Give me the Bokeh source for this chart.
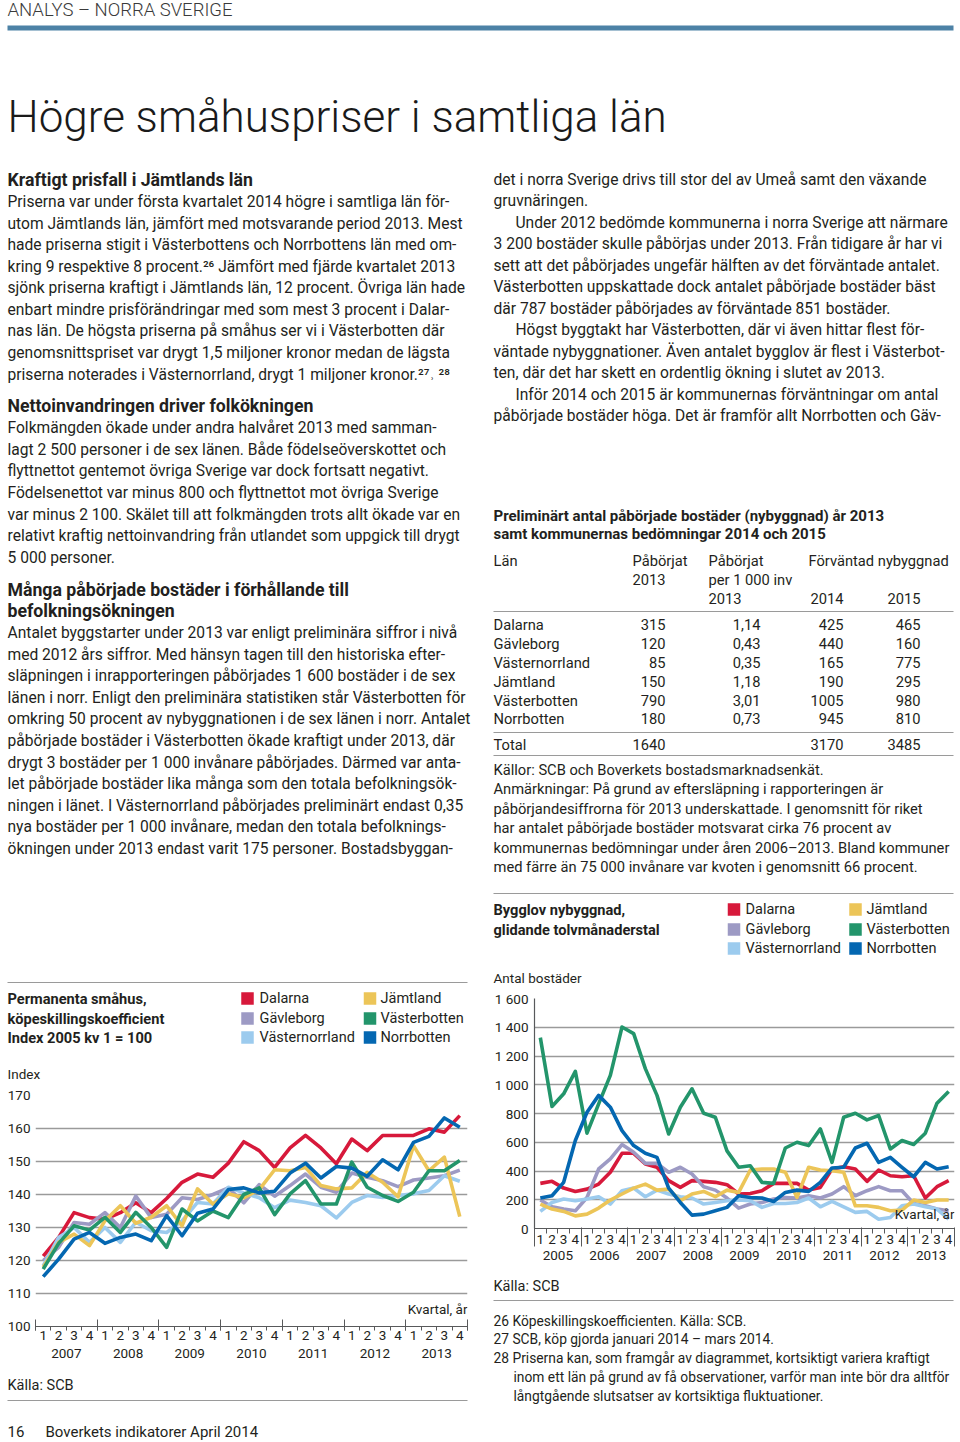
from bokeh.plotting import figure
from bokeh.models import Range1d, LinearAxis, FixedTicker, Grid, Label
from bokeh.layouts import column, row
from bokeh.embed import file_html
from bokeh.resources import INLINE
from bokeh.core.properties import value

FONT = "Roboto"
TITLE_FONT = "Roboto Light"
INK = "#231f20"
RULE = "#9a9a9a"
AXIS = "#58595b"
BAR = "#4d82a6"
BODY = "15.6px"
TICK = "13.5px"

# ---------------- data ----------------
region_names = ["Dalarna", "Gävleborg", "Västernorrland", "Jämtland", "Västerbotten", "Norrbotten"]
region_colors = ["#d7193b", "#9d9ac4", "#9ccbee", "#ecc558", "#23956b", "#0467b1"]
quarter_labels = ["1", "2", "3", "4"]

# Chart 1: köpeskillingskoefficient, index 2005 kv1 = 100, 2007 kv1 - 2013 kv4
index_years = ["2007", "2008", "2009", "2010", "2011", "2012", "2013"]
index_ticks = [100, 110, 120, 130, 140, 150, 160, 170]
index_dalarna = [121.3, 127.0, 134.5, 133.0, 132.5, 134.5, 137.5, 134.5, 138.8, 143.7, 146.2, 145.2, 149.5, 156.0,
                 153.3, 148.2, 154.1, 157.9, 154.1, 149.3, 156.8, 153.3, 157.9, 157.9, 157.9, 159.9, 158.9, 163.9]
index_gavleborg = [120.0, 124.0, 131.5, 131.0, 134.5, 130.0, 139.5, 133.0, 134.0, 139.0, 138.5, 140.0, 142.0, 137.5,
                   143.0, 139.5, 142.7, 146.2, 142.2, 140.7, 146.5, 145.2, 144.2, 142.4, 144.4, 145.0, 145.7, 147.4]
index_vasternorrland = [118.4, 127.0, 130.0, 125.5, 130.0, 125.5, 131.6, 129.0, 128.5, 132.0, 137.6, 137.1, 142.2, 140.5,
                        139.0, 136.0, 138.3, 137.6, 136.6, 132.9, 137.6, 139.7, 139.1, 139.7, 140.2, 141.2, 145.7, 144.0]
index_jamtland = [118.0, 125.5, 128.0, 124.5, 132.0, 136.6, 131.3, 133.1, 136.6, 130.5, 141.7, 137.1, 140.2, 139.0,
                  141.5, 147.5, 147.2, 148.2, 142.7, 141.7, 142.0, 146.7, 143.7, 139.3, 154.8, 147.2, 151.3, 133.3]
index_vasterbotten = [117.4, 125.2, 130.5, 129.2, 133.1, 128.5, 134.6, 130.0, 124.0, 135.6, 132.0, 135.0, 133.0, 140.0,
                      142.0, 133.9, 140.2, 144.2, 137.1, 137.1, 149.8, 142.2, 139.7, 137.9, 140.7, 147.2, 147.2, 150.3]
index_norrbotten = [115.1, 120.4, 126.5, 128.5, 125.2, 127.0, 128.0, 126.0, 133.6, 127.5, 134.3, 135.6, 141.5, 142.0,
                    140.5, 141.0, 146.5, 149.5, 145.0, 148.5, 148.0, 145.5, 150.5, 147.5, 155.8, 157.6, 163.2, 160.4]

# Chart 2: bygglov nybyggnad, glidande tolvmånaderstal, 2005 kv1 - 2013 kv4
permit_years = ["2005", "2006", "2007", "2008", "2009", "2010", "2011", "2012", "2013"]
permit_ticks = [0, 200, 400, 600, 800, 1000, 1200, 1400, 1600]
permit_tick_labels = ["0", "200", "400", "600", "800", "1 000", "1 200", "1 400", "1 600"]
permit_dalarna = [314, 328, 281, 258, 274, 309, 391, 523, 523, 449, 426, 333, 286, 333, 328, 321, 305, 240,
                  244, 263, 314, 314, 314, 267, 286, 414, 430, 414, 328, 407, 367, 360, 367, 212, 291, 333]
permit_gavleborg = [198, 151, 135, 123, 216, 414, 484, 584, 530, 453, 453, 391, 426, 379, 291, 267, 212, 142,
                    170, 181, 205, 216, 212, 228, 212, 240, 291, 228, 263, 291, 263, 263, 174, 158, 135, 123]
permit_vasternorrland = [119, 181, 205, 193, 205, 221, 170, 263, 281, 221, 267, 240, 221, 212, 170, 181, 193, 198,
                         193, 147, 174, 174, 181, 212, 151, 188, 151, 112, 119, 65, 77, 158, 170, 151, 135, 65]
permit_jamtland = [170, 135, 119, 88, 100, 142, 198, 240, 281, 309, 267, 274, 193, 240, 258, 221, 267, 251,
                   407, 414, 414, 391, 216, 426, 407, 402, 391, 158, 158, 147, 123, 128, 198, 181, 198, 198]
permit_vasterbotten = [1328, 849, 937, 1093, 663, 867, 1065, 1402, 1356, 1112, 926, 658, 844, 972, 802, 774, 540, 426,
                       437, 321, 314, 560, 600, 577, 693, 460, 774, 802, 756, 786, 553, 612, 584, 663, 872, 953]
permit_norrbotten = [212, 228, 321, 612, 809, 926, 844, 681, 577, 523, 495, 281, 181, 93, 100, 123, 147, 228,
                     216, 212, 188, 251, 267, 258, 321, 421, 426, 560, 593, 460, 495, 426, 360, 460, 414, 430]

# Table
table_regions = ["Dalarna", "Gävleborg", "Västernorrland", "Jämtland", "Västerbotten", "Norrbotten"]
table_started_2013 = ["315", "120", "85", "150", "790", "180"]
table_per_1000 = ["1,14", "0,43", "0,35", "1,18", "3,01", "0,73"]
table_expected_2014 = ["425", "440", "165", "190", "1005", "945"]
table_expected_2015 = ["465", "160", "775", "295", "980", "810"]
table_totals = ["1640", "3170", "3485"]


# ---------------- helpers ----------------
def page_fig(x0, x1, y0, y1):
    p = figure(width=x1 - x0, height=y1 - y0,
               x_range=Range1d(x0, x1), y_range=Range1d(y1, y0),
               x_axis_location=None, y_axis_location=None,
               toolbar_location=None, output_backend="svg",
               min_border=0, outline_line_color=None)
    p.grid.visible = False
    return p


def write(p, x, ys, lines, size=BODY, bold=False, align="left", color=INK, font=FONT):
    xs = x if isinstance(x, list) else [x] * len(lines)
    p.text(x=xs, y=ys, text=lines, text_font=value(font), text_font_size=size,
           text_font_style="bold" if bold else "normal", text_align=align,
           text_baseline="middle", text_color=color)


def rule(p, x0, x1, y, color=RULE, width=1.2):
    p.segment(x0=[x0], y0=[y], x1=[x1], y1=[y], line_color=color, line_width=width)


def legend(p, xs_sq, xs_txt, ys):
    sx, tx, sy = [], [], []
    for i in range(len(region_names)):
        col, r = divmod(i, 3)
        sx.append(xs_sq[col]); tx.append(xs_txt[col]); sy.append(ys[r])
    p.rect(x=sx, y=sy, width=12.5, height=12.5, fill_color=region_colors, line_color=None)
    write(p, tx, sy, region_names, size="14.5px")


def quarter_axes(p, years, q_out, yr_in, yr_out, b_standoff, c_standoff, c_minor_in):
    nq = 4 * len(years)
    q_bounds = [i - 0.5 for i in range(nq + 1)]
    y_bounds = [4 * k - 0.5 for k in range(len(years) + 1)]
    ticks_ax = LinearAxis(ticker=FixedTicker(ticks=q_bounds, minor_ticks=y_bounds),
                          major_label_text_color=None, major_label_standoff=0,
                          major_tick_in=0, major_tick_out=q_out,
                          minor_tick_in=yr_in, minor_tick_out=yr_out,
                          axis_line_color=AXIS, major_tick_line_color=AXIS,
                          minor_tick_line_color=AXIS, axis_line_width=1.2)
    q_centres = list(range(nq))
    q_ax = LinearAxis(ticker=FixedTicker(ticks=q_centres),
                      major_label_overrides={i: quarter_labels[i % 4] for i in q_centres},
                      axis_line_color=None, major_tick_line_color=None, minor_tick_line_color=None,
                      major_tick_in=0, major_tick_out=0, major_label_standoff=b_standoff,
                      major_label_text_font=FONT, major_label_text_font_size=TICK,
                      major_label_text_color=INK)
    y_centres = [4 * k + 1.5 for k in range(len(years))]
    y_ax = LinearAxis(ticker=FixedTicker(ticks=y_centres, minor_ticks=y_bounds if c_minor_in else []),
                      major_label_overrides=dict(zip(y_centres, years)),
                      axis_line_color=None, major_tick_line_color=None,
                      minor_tick_line_color=AXIS if c_minor_in else None,
                      minor_tick_in=c_minor_in, minor_tick_out=0,
                      major_tick_in=0, major_tick_out=0, major_label_standoff=c_standoff,
                      major_label_text_font=FONT, major_label_text_font_size=TICK,
                      major_label_text_color=INK)
    p.add_layout(ticks_ax, "below")
    p.add_layout(q_ax, "below")
    p.add_layout(y_ax, "below")


# ---------------- top text block ----------------
T = page_fig(0, 960, 0, 880)
T.quad(left=[7], right=[953], top=[25], bottom=[30], fill_color=BAR, line_color=None)
write(T, 7, [9], ["ANALYS – NORRA SVERIGE"], size="18.5px", color="#3a3a3a", font=TITLE_FONT)
write(T, 7, [116], ["Högre småhuspriser i samtliga län"], size="44px", color="#1a1a1a", font=TITLE_FONT)

write(T, 7, [179, 405, 589, 610], ["Kraftigt prisfall i Jämtlands län",
                                   "Nettoinvandringen driver folkökningen",
                                   "Många påbörjade bostäder i förhållande till",
                                   "befolkningsökningen"], size="17.7px", bold=True)
left_lines = [
    (201, "Priserna var under första kvartalet 2014 högre i samtliga län för-"),
    (223, "utom Jämtlands län, jämfört med motsvarande period 2013. Mest"),
    (244, "hade priserna stigit i Västerbottens och Norrbottens län med om-"),
    (266, "kring 9 respektive 8 procent.\u00b2\u2076 Jämfört med fjärde kvartalet 2013"),
    (287, "sjönk priserna kraftigt i Jämtlands län, 12 procent. Övriga län hade"),
    (309, "enbart mindre prisförändringar med som mest 3 procent i Dalar-"),
    (330, "nas län. De högsta priserna på småhus ser vi i Västerbotten där"),
    (352, "genomsnittspriset var drygt 1,5 miljoner kronor medan de lägsta"),
    (374, "priserna noterades i Västernorrland, drygt 1 miljoner kronor.\u00b2\u2077\u02d2 \u00b2\u2078"),
    (427, "Folkmängden ökade under andra halvåret 2013 med samman-"),
    (449, "lagt 2 500 personer i de sex länen. Både födelseöverskottet och"),
    (470, "flyttnettot gentemot övriga Sverige var dock fortsatt negativt."),
    (492, "Födelsenettot var minus 800 och flyttnettot mot övriga Sverige"),
    (514, "var minus 2 100. Skälet till att folkmängden trots allt ökade var en"),
    (535, "relativt kraftig nettoinvandring från utlandet som uppgick till drygt"),
    (557, "5 000 personer."),
    (632, "Antalet byggstarter under 2013 var enligt preliminära siffror i nivå"),
    (654, "med 2012 års siffror. Med hänsyn tagen till den historiska efter-"),
    (675, "släpningen i inrapporteringen påbörjades 1 600 bostäder i de sex"),
    (697, "länen i norr. Enligt den preliminära statistiken står Västerbotten för"),
    (718, "omkring 50 procent av nybyggnationen i de sex länen i norr. Antalet"),
    (740, "påbörjade bostäder i Västerbotten ökade kraftigt under 2013, där"),
    (762, "drygt 3 bostäder per 1 000 invånare påbörjades. Därmed var anta-"),
    (783, "let påbörjade bostäder lika många som den totala befolkningsök-"),
    (805, "ningen i länet. I Västernorrland påbörjades preliminärt endast 0,35"),
    (826, "nya bostäder per 1 000 invånare, medan den totala befolknings-"),
    (848, "ökningen under 2013 endast varit 175 personer. Bostadsbyggan-"),
]
write(T, 7, [a for a, _ in left_lines], [b for _, b in left_lines])

right_lines = [
    (493, 179, "det i norra Sverige drivs till stor del av Umeå samt den växande"),
    (493, 200, "gruvnäringen."),
    (515, 222, "Under 2012 bedömde kommunerna i norra Sverige att närmare"),
    (493, 243, "3 200 bostäder skulle påbörjas under 2013. Från tidigare år har vi"),
    (493, 265, "sett att det påbörjades ungefär hälften av det förväntade antalet."),
    (493, 286, "Västerbotten uppskattade dock antalet påbörjade bostäder bäst"),
    (493, 308, "där 787 bostäder påbörjades av förväntade 851 bostäder."),
    (515, 329, "Högst byggtakt har Västerbotten, där vi även hittar flest för-"),
    (493, 351, "väntade nybyggnationer. Även antalet bygglov är flest i Västerbot-"),
    (493, 372, "ten, där det har skett en ordentlig ökning i slutet av 2013."),
    (515, 394, "Inför 2014 och 2015 är kommunernas förväntningar om antal"),
    (493, 415, "påbörjade bostäder höga. Det är framför allt Norrbotten och Gäv-"),
]
write(T, [a for a, _, _ in right_lines], [b for _, b, _ in right_lines], [c for _, _, c in right_lines])

# table
TS = "14.7px"
write(T, 493, [515, 533], ["Preliminärt antal påbörjade bostäder (nybyggnad) år 2013",
                           "samt kommunernas bedömningar 2014 och 2015"], size="15px", bold=True)
write(T, [493, 632, 708, 808, 708, 708], [560, 560, 560, 560, 579, 598],
      ["Län", "Påbörjat", "Påbörjat", "Förväntad nybyggnad", "per 1 000 inv", "2013"], size=TS)
write(T, [665, 843, 920], [579, 598, 598], ["2013", "2014", "2015"], size=TS, align="right")
rule(T, 493, 953, 611)
row_y = [624, 643, 662, 681, 700, 718]
write(T, 493, row_y, table_regions, size=TS)
write(T, 665, row_y, table_started_2013, size=TS, align="right")
write(T, 760, row_y, table_per_1000, size=TS, align="right")
write(T, 843, row_y, table_expected_2014, size=TS, align="right")
write(T, 920, row_y, table_expected_2015, size=TS, align="right")
rule(T, 493, 953, 732)
write(T, 493, [744], ["Total"], size=TS)
write(T, [665, 843, 920], [744, 744, 744], table_totals, size=TS, align="right")
rule(T, 493, 953, 755)
write(T, 493, [769, 788, 808, 827, 847, 866], [
    "Källor: SCB och Boverkets bostadsmarknadsenkät.",
    "Anmärkningar: På grund av eftersläpning i rapporteringen är",
    "påbörjandesiffrorna för 2013 underskattade. I genomsnitt för riket",
    "har antalet påbörjade bostäder motsvarat cirka 76 procent av",
    "kommunernas bedömningar under åren 2006–2013. Bland kommuner",
    "med färre än 75 000 invånare var kvoten i genomsnitt 66 procent."], size=TS)

# ---------------- left bottom: chart 1 ----------------
L1 = page_fig(0, 485, 880, 1085)
rule(L1, 7, 467, 982)
write(L1, 7, [998, 1018, 1037], ["Permanenta småhus,", "köpeskillingskoefficient",
                                 "Index 2005 kv 1 = 100"], size="14.6px", bold=True)
legend(L1, [247, 369.5], [259, 380], [998, 1018, 1037])
write(L1, 7, [1073], ["Index"], size=TICK)

L2 = figure(width=485, height=283, x_range=Range1d(-0.5, 27.5), y_range=Range1d(100, 170),
            x_axis_location=None, y_axis_location=None, toolbar_location=None,
            output_backend="svg", min_border_left=35, min_border_right=18,
            min_border_top=10, min_border_bottom=42, outline_line_color=None)
L2.grid.visible = False
L2.add_layout(Grid(dimension=1, ticker=FixedTicker(ticks=index_ticks[1:]),
                   grid_line_color=RULE, grid_line_width=1.3))
L2.add_layout(LinearAxis(ticker=FixedTicker(ticks=index_ticks), axis_line_color=None,
                         major_tick_line_color=None, minor_tick_line_color=None,
                         major_tick_out=0, major_tick_in=0, major_label_standoff=5,
                         major_label_text_font=FONT, major_label_text_font_size=TICK,
                         major_label_text_color=INK), "left")
quarter_axes(L2, index_years, q_out=4, yr_in=7, yr_out=4, b_standoff=0, c_standoff=6, c_minor_in=0)
xq1 = list(range(4 * len(index_years)))
for series, colr in zip([index_dalarna, index_gavleborg, index_vasternorrland, index_jamtland,
                         index_vasterbotten, index_norrbotten], region_colors):
    L2.line(x=xq1, y=series, line_color=colr, line_width=3.6, line_join="round")
L2.add_layout(Label(x=27.5, y=105.2, text="Kvartal, år", text_align="right", text_baseline="middle",
                    text_font=FONT, text_font_size=TICK, text_color=INK))

L3 = page_fig(0, 485, 1368, 1442)
write(L3, 7, [1385], ["Källa: SCB"], size="14.5px")
rule(L3, 7, 467, 1400)
write(L3, [7, 45], [1431, 1431], ["16", "Boverkets indikatorer April 2014"], size="15px")

# ---------------- right bottom: chart 2 ----------------
R1 = page_fig(485, 960, 880, 988)
rule(R1, 493, 953, 893)
write(R1, 493, [909, 929], ["Bygglov nybyggnad,", "glidande tolvmånaderstal"], size="14.6px", bold=True)
legend(R1, [733.5, 855], [745, 866], [909, 929, 948])
write(R1, 493, [977], ["Antal bostäder"], size=TICK)

R2 = figure(width=475, height=290, x_range=Range1d(-0.5, 35.5), y_range=Range1d(0, 1600),
            x_axis_location=None, y_axis_location=None, toolbar_location=None,
            output_backend="svg", min_border_left=49, min_border_right=6,
            min_border_top=10, min_border_bottom=50, outline_line_color=None)
R2.grid.visible = False
R2.add_layout(Grid(dimension=1, ticker=FixedTicker(ticks=permit_ticks[1:]),
                   grid_line_color=RULE, grid_line_width=1.3))
R2.add_layout(LinearAxis(ticker=FixedTicker(ticks=permit_ticks),
                         major_label_overrides=dict(zip(permit_ticks, permit_tick_labels)),
                         axis_line_color=AXIS, axis_line_width=1.2,
                         major_tick_line_color=None, minor_tick_line_color=None,
                         major_tick_out=0, major_tick_in=0, major_label_standoff=6,
                         major_label_text_font=FONT, major_label_text_font_size=TICK,
                         major_label_text_color=INK), "left")
quarter_axes(R2, permit_years, q_out=5, yr_in=0, yr_out=5, b_standoff=1, c_standoff=4, c_minor_in=19)
xq2 = list(range(4 * len(permit_years)))
for series, colr in zip([permit_dalarna, permit_gavleborg, permit_vasternorrland, permit_jamtland,
                         permit_vasterbotten, permit_norrbotten], region_colors):
    R2.line(x=xq2, y=series, line_color=colr, line_width=3.6, line_join="round")
R2.add_layout(Label(x=35.5, y=104, text="Kvartal, år", text_align="right", text_baseline="middle",
                    text_font=FONT, text_font_size=TICK, text_color=INK))

R3 = page_fig(485, 960, 1278, 1442)
write(R3, 493, [1286], ["Källa: SCB"], size="14.5px")
rule(R3, 493, 953, 1300)
write(R3, [493, 493, 493, 513, 513], [1320, 1338, 1357, 1376, 1395], [
    "26 Köpeskillingskoefficienten. Källa: SCB.",
    "27 SCB, köp gjorda januari 2014 – mars 2014.",
    "28 Priserna kan, som framgår av diagrammet, kortsiktigt variera kraftigt",
    "inom ett län på grund av få observationer, varför man inte bör dra alltför",
    "långtgående slutsatser av kortsiktiga fluktuationer."], size="13.8px")

layout = column(T, row(column(L1, row(L2), L3), column(R1, row(R2), R3)))
open("out.html", "w").write(file_html(layout, INLINE))
